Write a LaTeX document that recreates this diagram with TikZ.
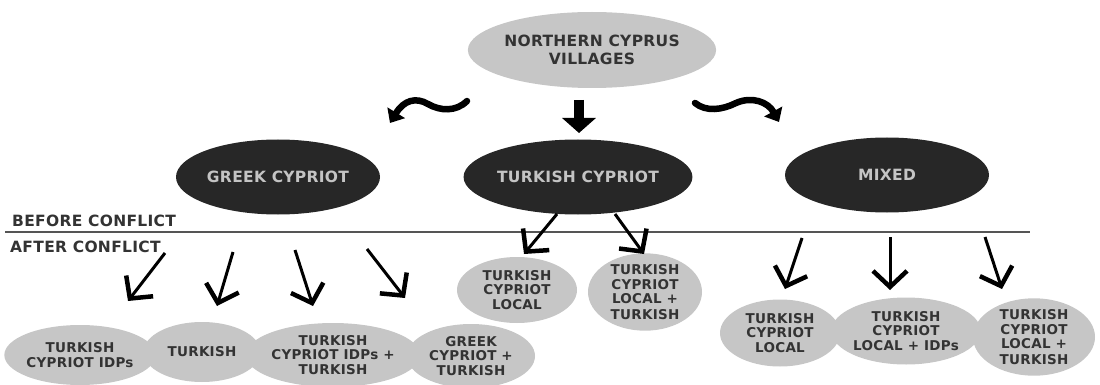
\documentclass[tikz,border=0pt]{standalone}
\usepackage{fontspec}
\setmainfont{DejaVu Sans}
\newfontfamily\labfont{DejaVu Sans}[LetterSpace=2]
\usetikzlibrary{shapes.geometric,arrows.meta}
\definecolor{darkfill}{HTML}{272727}
\definecolor{lightfill}{HTML}{C6C6C6}
\definecolor{darktext}{HTML}{333333}
\definecolor{palegrey}{HTML}{C4C4C4}
\definecolor{rulegrey}{HTML}{555555}
\tikzset{
  lightnode/.style={ellipse, fill=lightfill, inner sep=0pt, align=center, text=darktext,
    font=\labfont\bfseries\fontsize{13.5}{14.5}\selectfont},
  darknode/.style={ellipse, fill=darkfill, inner sep=0pt, minimum width=204pt, minimum height=75pt,
    text=palegrey, font=\labfont\bfseries\fontsize{15.5}{17}\selectfont},
  handarrow/.style={line width=3pt, -{Straight Barb[length=16pt,width=34pt,line width=4.5pt]}},
  blockarrow/.style={line width=10pt, -{Triangle[length=15pt,width=33pt]}},
  wavyarrow/.style={line width=6.5pt, line cap=round, -{Triangle[length=12pt,width=20pt]}},
  sidelabel/.style={anchor=west, inner sep=0pt, text=darktext,
    font=\labfont\bfseries\fontsize{15.5}{17}\selectfont},
}
\begin{document}
\begin{tikzpicture}[x=1pt,y=-1pt]
\useasboundingbox (0,0) rectangle (1100,385);

% top node
\node[lightnode, minimum width=202pt, minimum height=76pt, font=\labfont\bfseries\fontsize{15.5}{18}\selectfont]
  (top) at (592,50) {NORTHERN CYPRUS\\VILLAGES};

% middle dark nodes
\node[darknode] (gc) at (278,177) {GREEK CYPRIOT};
\node[darknode] (tc) at (578,177) {TURKISH CYPRIOT};
\node[darknode] (mx) at (887,175) {MIXED};

% top arrows
\coordinate (cs) at (579,100);
\coordinate (ce) at (579,133);
\draw[blockarrow] (cs) -- (ce);
\coordinate (ls) at (467,101);
\coordinate (le) at (390,123);
\draw[wavyarrow] (ls) .. controls (456,112) and (440,111) .. (428,104)
  .. controls (416,97) and (404,100) .. (le);
\coordinate (rs) at (695,103);
\coordinate (re) at (779,122);
\draw[wavyarrow] (rs) .. controls (706,112) and (722,110) .. (736,103)
  .. controls (752,96) and (768,102) .. (re);

% separator
\coordinate (sl) at (5,232);
\coordinate (sr) at (1030,232);
\draw[rulegrey, line width=1.6pt] (sl) -- (sr);
\node[sidelabel] (before) at (12,221) {BEFORE CONFLICT};
\node[sidelabel] (after) at (10,247) {AFTER CONFLICT};

% bottom nodes: Greek Cypriot branch
\node[lightnode, minimum width=116pt, minimum height=60pt] (b1) at (80,355) {TURKISH\\CYPRIOT IDPs};
\node[lightnode, minimum width=117pt, minimum height=60pt] (b2) at (202,352) {TURKISH};
\node[lightnode, minimum width=137pt, minimum height=64pt] (b3) at (333,355) {TURKISH\\CYPRIOT IDPs +\\TURKISH};
\node[lightnode, minimum width=128pt, minimum height=64pt] (b4) at (471,356) {GREEK\\CYPRIOT +\\TURKISH};

% Turkish Cypriot branch
\node[lightnode, minimum width=120pt, minimum height=66pt] (m1) at (517,290) {TURKISH\\CYPRIOT\\LOCAL};
\node[lightnode, minimum width=114pt, minimum height=76pt] (m2) at (645,292) {TURKISH\\CYPRIOT\\LOCAL +\\[1pt]TURKISH};

% Mixed branch
\node[lightnode, minimum width=120pt, minimum height=67pt] (r1) at (780,333) {TURKISH\\CYPRIOT\\LOCAL};
\node[lightnode, minimum width=128pt, minimum height=67pt] (r2) at (906,331) {TURKISH\\CYPRIOT\\LOCAL + IDPs};
\node[lightnode, minimum width=122pt, minimum height=76pt] (r3) at (1034,337) {TURKISH\\CYPRIOT\\LOCAL +\\[1pt]TURKISH};

% bottom arrows
\coordinate (a1s) at (165,253); \coordinate (a1e) at (128,301);
\coordinate (a2s) at (233,252); \coordinate (a2e) at (217,306);
\coordinate (a3s) at (295,250); \coordinate (a3e) at (313,306);
\coordinate (a4s) at (367,249); \coordinate (a4e) at (405,298);
\coordinate (t1s) at (557,214); \coordinate (t1e) at (524,254);
\coordinate (t2s) at (615,214); \coordinate (t2e) at (644,254);
\coordinate (x1s) at (802,238); \coordinate (x1e) at (785,289);
\coordinate (x2s) at (890,237); \coordinate (x2e) at (890,290);
\coordinate (x3s) at (985,237); \coordinate (x3e) at (1002,289);
\foreach \a in {a1,a2,a3,a4,t1,t2,x1,x2,x3}
  \draw[handarrow] (\a s) -- (\a e);
\end{tikzpicture}
\end{document}
